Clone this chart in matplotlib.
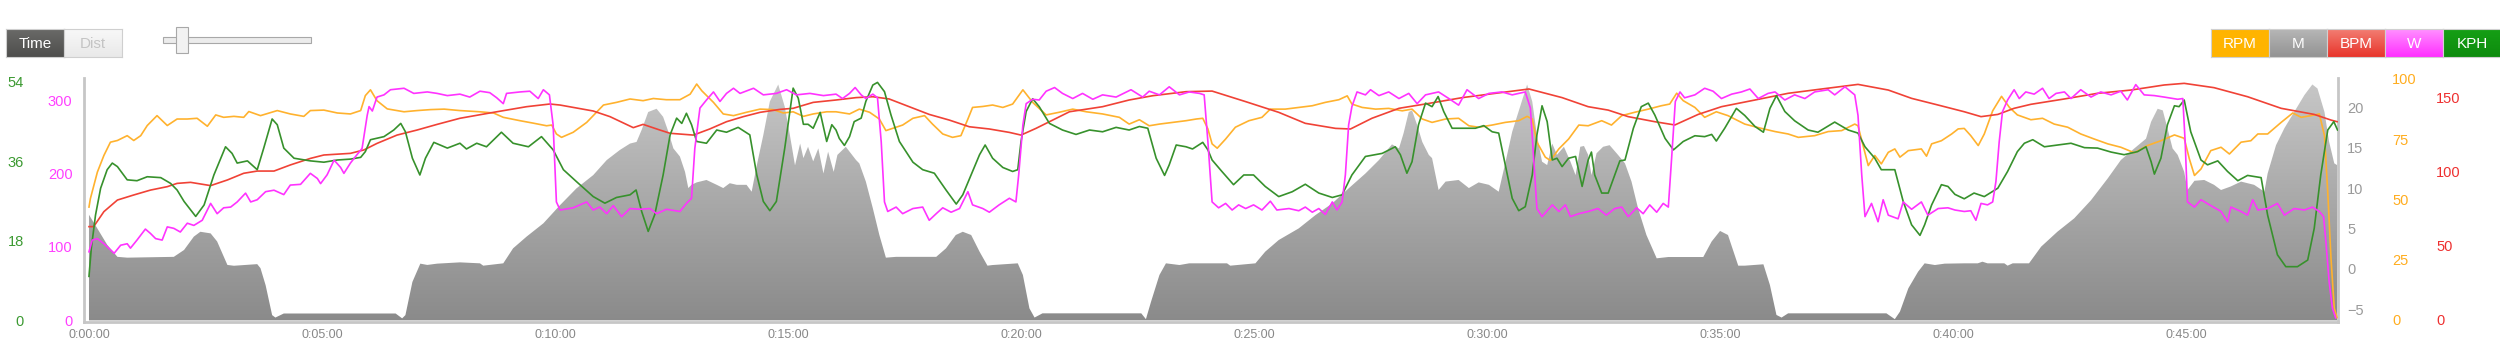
import numpy as np
import matplotlib
matplotlib.use('Agg')
import matplotlib.pyplot as plt
from matplotlib.patches import Rectangle, Polygon
from matplotlib.colors import LinearSegmentedColormap

plt.rcParams['font.family'] = ['Liberation Sans', 'DejaVu Sans']

# ---- data, time in minutes ----
elev = [(0.00, 6.7), (0.18, 5.0), (0.39, 3.0), (0.61, 1.5), (0.82, 1.4), (1.82, 1.5), (2.04, 2.35), (2.25, 4.0),
        (2.39, 4.6), (2.61, 4.4), (2.75, 3.4), (2.97, 0.5), (3.11, 0.4), (3.61, 0.6), (3.68, 0.1), (3.79, -2.0),
        (3.93, -5.7), (4.00, -6.0), (4.18, -5.5), (6.58, -5.5), (6.72, -6.1), (6.79, -5.7), (6.94, -1.6), (7.11, 0.66),
        (7.26, 0.5), (7.47, 0.66), (7.96, 0.82), (8.39, 0.7), (8.46, 0.41), (8.89, 0.7), (9.10, 2.55), (9.39, 4.0),
        (9.75, 5.64), (10.11, 7.9), (10.46, 9.96), (10.82, 11.6), (11.11, 13.46), (11.39, 14.7), (11.61, 15.5),
        (11.75, 15.7), (11.86, 17.2), (12.00, 19.4), (12.18, 19.8), (12.32, 18.8), (12.43, 17.0), (12.54, 14.9),
        (12.68, 13.9), (12.79, 12.0), (12.86, 10.0), (12.93, 10.4), (13.04, 10.7), (13.25, 11.0), (13.47, 10.4),
        (13.61, 10.0), (13.75, 10.6), (13.90, 10.4), (14.11, 10.4), (14.22, 9.55), (14.33, 12.8), (14.47, 16.55),
        (14.61, 20.7), (14.79, 22.8), (14.93, 20.05), (15.04, 16.55), (15.15, 12.8), (15.26, 15.5), (15.33, 13.7),
        (15.43, 15.1), (15.54, 13.3), (15.65, 14.9), (15.76, 11.8), (15.86, 14.5), (15.98, 12.0), (16.06, 14.1),
        (16.24, 15.1), (16.46, 13.46), (16.53, 13.05), (16.67, 10.8), (16.82, 7.5), (16.96, 4.2), (17.10, 1.4),
        (17.32, 1.5), (18.18, 1.5), (18.39, 2.55), (18.60, 4.2), (18.75, 4.6), (18.93, 4.2), (19.11, 2.14),
        (19.28, 0.41), (19.39, 0.49), (19.93, 0.7), (20.04, -0.74), (20.18, -4.86), (20.29, -6.0), (20.46, -5.48),
        (22.58, -5.48), (22.68, -6.2), (22.79, -4.04), (22.97, -0.74), (23.11, 0.7), (23.40, 0.49), (23.61, 0.7),
        (24.10, 0.7), (24.42, 0.7), (24.49, 0.41), (25.03, 0.7), (25.24, 2.14), (25.53, 3.58), (25.96, 5.02),
        (26.32, 6.67), (26.68, 8.11), (27.03, 9.96), (27.39, 11.8), (27.68, 13.46), (27.96, 15.4), (28.11, 14.9),
        (28.21, 16.8), (28.32, 19.4), (28.39, 19.6), (28.50, 17.8), (28.61, 15.7), (28.75, 14.1), (28.82, 13.7),
        (28.96, 9.76), (29.11, 10.8), (29.39, 11.0), (29.61, 10.0), (29.82, 10.7), (30.04, 10.4), (30.25, 9.55),
        (30.39, 13.05), (30.54, 16.96), (30.72, 20.25), (30.86, 22.8), (30.97, 20.7), (31.07, 16.55), (31.18, 13.26),
        (31.29, 12.84), (31.40, 15.5), (31.50, 14.1), (31.65, 15.1), (31.79, 13.26), (31.90, 11.6), (32.00, 15.1),
        (32.08, 15.2), (32.17, 14.1), (32.24, 11.6), (32.35, 14.3), (32.49, 15.1), (32.63, 15.3), (32.81, 14.1),
        (32.96, 13.05), (33.10, 10.8), (33.24, 7.5), (33.42, 4.2), (33.64, 1.32), (33.89, 1.48), (34.64, 1.48),
        (34.82, 3.4), (35.00, 4.7), (35.17, 4.2), (35.39, 0.41), (35.53, 0.41), (35.93, 0.58), (36.07, -1.98),
        (36.21, -5.68), (36.32, -6.0), (36.46, -5.48), (38.57, -5.48), (38.75, -6.2), (38.86, -5.27), (39.04, -2.39),
        (39.25, -0.33), (39.39, 0.7), (39.61, 0.49), (39.82, 0.66), (40.24, 0.7), (40.53, 0.7), (40.63, 0.9),
        (40.74, 0.7), (41.10, 0.7), (41.17, 0.41), (41.28, 0.7), (41.63, 0.7), (41.89, 2.76), (42.24, 4.61),
        (42.60, 6.26), (42.96, 8.5), (43.32, 11.2), (43.60, 13.46), (43.89, 14.9), (44.14, 16.1), (44.25, 18.2),
        (44.39, 19.8), (44.50, 19.6), (44.60, 17.4), (44.71, 14.9), (44.82, 14.1), (44.96, 12.0), (45.03, 9.76),
        (45.18, 10.9), (45.39, 11.0), (45.60, 10.4), (45.75, 9.76), (45.96, 10.2), (46.18, 10.8), (46.46, 10.4),
        (46.68, 9.55), (46.75, 11.8), (46.93, 15.3), (47.11, 17.4), (47.32, 19.4), (47.54, 21.5), (47.71, 22.8),
        (47.82, 22.3), (47.97, 19.4), (48.07, 15.7), (48.18, 13.05), (48.24, 12.84)]

rpm = [(0.0, 46.8), (0.03, 50.3), (0.18, 61.3), (0.32, 68.2), (0.46, 73.7), (0.61, 74.4), (0.75, 75.7), (0.82, 76.4),
       (0.96, 74.4), (1.11, 76.4), (1.25, 80.6), (1.46, 84.7), (1.68, 80.6), (1.89, 83.3), (2.11, 83.3), (2.32, 83.6),
       (2.54, 80.3), (2.72, 85.0), (2.89, 84.0), (3.11, 84.4), (3.32, 84.0), (3.43, 86.4), (3.68, 84.7), (4.04, 86.8),
       (4.32, 85.4), (4.61, 84.4), (4.75, 86.8), (5.04, 87.0), (5.33, 85.8), (5.61, 85.4), (5.83, 86.8), (5.93, 93.0),
       (6.04, 95.4), (6.18, 90.9), (6.40, 87.5), (6.76, 86.3), (7.04, 86.8), (7.33, 87.2), (7.62, 87.4), (7.96, 86.8),
       (8.39, 86.3), (8.68, 85.8), (8.89, 84.0), (9.25, 82.6), (9.53, 81.6), (9.82, 80.5), (9.93, 80.8), (10.03, 77.1),
       (10.14, 75.7), (10.39, 77.8), (10.68, 81.9), (10.89, 86.1), (11.04, 89.1), (11.32, 90.2), (11.61, 91.6),
       (11.89, 90.9), (12.11, 91.8), (12.39, 91.3), (12.68, 91.3), (12.90, 93.6), (13.04, 97.8), (13.15, 95.0),
       (13.40, 90.2), (13.61, 85.4), (13.83, 84.7), (14.11, 86.1), (14.40, 87.4), (14.68, 87.2), (14.90, 85.8),
       (15.11, 86.3), (15.33, 84.4), (15.54, 85.4), (15.83, 86.3), (16.03, 86.3), (16.32, 85.4), (16.53, 87.4),
       (16.75, 86.1), (16.96, 83.3), (17.10, 78.5), (17.32, 79.9), (17.46, 80.8), (17.68, 83.6), (17.93, 84.7),
       (18.10, 81.2), (18.32, 77.1), (18.53, 75.7), (18.71, 76.4), (18.86, 83.3), (18.96, 88.1), (19.18, 88.5),
       (19.39, 89.1), (19.61, 88.1), (19.82, 89.5), (20.04, 95.4), (20.25, 90.2), (20.54, 85.0), (20.82, 86.1),
       (21.11, 87.4), (21.40, 86.3), (21.75, 85.4), (22.11, 84.0), (22.32, 81.2), (22.54, 83.0), (22.75, 80.5),
       (22.97, 81.2), (23.25, 81.9), (23.54, 82.6), (23.76, 83.3), (23.90, 83.6), (24.01, 79.2), (24.10, 73.0),
       (24.21, 71.2), (24.39, 75.0), (24.60, 79.9), (24.89, 82.6), (25.17, 84.0), (25.35, 87.4), (25.67, 87.4),
       (25.96, 88.1), (26.25, 88.8), (26.53, 90.2), (26.82, 91.3), (27.00, 92.9), (27.10, 89.5), (27.32, 88.1),
       (27.61, 87.4), (27.89, 87.7), (28.18, 86.7), (28.39, 87.4), (28.61, 83.3), (28.82, 81.9), (29.11, 83.3),
       (29.39, 83.6), (29.61, 80.5), (29.82, 79.9), (30.11, 80.8), (30.39, 81.9), (30.68, 82.6), (30.86, 84.4),
       (30.97, 83.3), (31.07, 73.7), (31.25, 67.5), (31.36, 66.1), (31.54, 70.9), (31.75, 75.0), (31.97, 80.8),
       (32.17, 80.5), (32.46, 82.6), (32.67, 80.8), (32.89, 84.7), (33.17, 86.1), (33.46, 87.4), (33.74, 88.8),
       (33.92, 89.5), (34.07, 94.0), (34.21, 90.9), (34.46, 88.1), (34.67, 84.0), (34.92, 86.3), (35.17, 84.7),
       (35.53, 81.2), (35.89, 79.4), (36.18, 78.1), (36.46, 77.1), (36.68, 75.7), (37.03, 76.4), (37.32, 78.1),
       (37.61, 78.5), (37.89, 81.2), (37.96, 80.5), (38.07, 72.3), (38.18, 64.0), (38.32, 68.2), (38.46, 64.7),
       (38.61, 69.5), (38.75, 70.9), (38.86, 67.5), (39.04, 70.2), (39.32, 70.9), (39.43, 67.9), (39.54, 73.0),
       (39.75, 74.3), (39.97, 77.1), (40.11, 79.2), (40.24, 79.4), (40.38, 76.4), (40.54, 72.3), (40.67, 77.1),
       (40.85, 86.7), (41.04, 92.7), (41.21, 88.1), (41.38, 85.0), (41.67, 83.0), (41.92, 83.6), (42.17, 81.2),
       (42.46, 79.9), (42.74, 77.1), (43.03, 75.0), (43.32, 73.0), (43.60, 71.6), (43.89, 69.3), (44.17, 72.3),
       (44.46, 74.3), (44.75, 76.7), (44.96, 75.3), (45.07, 66.8), (45.18, 59.9), (45.32, 62.6), (45.53, 70.2),
       (45.75, 71.6), (45.93, 68.8), (46.18, 73.7), (46.39, 74.3), (46.54, 77.1), (46.75, 77.1), (47.04, 81.9),
       (47.29, 85.8), (47.47, 84.0), (47.68, 84.7), (47.86, 85.4), (47.97, 76.4), (48.04, 53.0), (48.11, 25.5),
       (48.18, 4.8), (48.24, 1.0)]

bpm = [(0.0, 62.8), (0.10, 62.8), (0.32, 72.9), (0.61, 80.7), (0.96, 84.1), (1.32, 87.4), (1.68, 89.7), (1.89, 91.9),
       (2.18, 92.6), (2.61, 90.4), (2.97, 94.2), (3.32, 98.7), (3.61, 100.2), (3.97, 100.2), (4.32, 104.3),
       (4.75, 108.7), (5.04, 111.0), (5.61, 112.1), (5.90, 114.4), (6.18, 118.8), (6.61, 124.4), (7.04, 127.8),
       (7.47, 131.6), (7.96, 135.7), (8.68, 139.7), (9.39, 143.5), (9.89, 145.3), (10.11, 144.6), (10.82, 140.6),
       (11.18, 136.8), (11.68, 129.4), (11.89, 131.6), (12.25, 127.8), (12.47, 125.6), (12.97, 124.4),
       (13.32, 128.5), (13.68, 133.4), (14.04, 136.8), (14.40, 139.7), (14.83, 141.7), (15.11, 142.4),
       (15.54, 146.4), (16.03, 148.0), (16.46, 149.6), (16.82, 150.2), (17.17, 148.7), (17.60, 143.5),
       (18.03, 138.3), (18.46, 134.5), (18.89, 130.0), (19.32, 128.5), (19.75, 126.2), (20.00, 124.4),
       (20.32, 128.9), (20.68, 134.5), (21.04, 140.1), (21.75, 143.5), (22.32, 148.0), (22.83, 150.9),
       (23.54, 153.6), (24.10, 154.0), (24.82, 146.9), (25.53, 139.7), (26.10, 132.3), (26.75, 128.9),
       (27.07, 128.5), (27.53, 135.7), (28.11, 142.4), (28.75, 145.7), (29.47, 149.6), (30.18, 152.5),
       (30.90, 155.4), (31.61, 149.6), (32.17, 143.5), (32.60, 141.2), (33.03, 136.8), (33.60, 133.4),
       (34.03, 131.2), (34.53, 138.3), (35.03, 143.5), (35.75, 148.0), (36.46, 152.5), (37.18, 155.4),
       (37.96, 158.5), (38.61, 154.7), (39.11, 149.1), (39.68, 144.6), (40.24, 140.1), (40.60, 136.8),
       (40.96, 138.3), (41.31, 142.4), (41.67, 145.1), (42.39, 148.7), (43.10, 152.5), (43.82, 154.7),
       (44.53, 158.1), (44.96, 159.2), (45.60, 156.3), (46.32, 150.2), (47.04, 142.4), (47.75, 138.3),
       (48.11, 134.5), (48.24, 133.4)]

kph = [(0.0, 9.9), (0.05, 16.3), (0.14, 23.8), (0.25, 29.9), (0.39, 34.1), (0.50, 35.6), (0.61, 34.8), (0.82, 31.8),
       (1.03, 31.6), (1.25, 32.5), (1.54, 32.3), (1.75, 31.0), (1.89, 29.5), (2.04, 26.9), (2.29, 23.5), (2.47, 26.1),
       (2.68, 32.9), (2.93, 39.3), (3.07, 37.8), (3.18, 35.6), (3.40, 36.1), (3.61, 34.1), (3.75, 39.0), (3.93, 45.6),
       (4.04, 44.3), (4.18, 39.0), (4.40, 36.7), (4.75, 36.1), (5.04, 35.8), (5.33, 36.3), (5.61, 36.5), (5.83, 36.9),
       (5.93, 38.2), (6.04, 40.9), (6.33, 41.6), (6.54, 43.1), (6.69, 44.6), (6.79, 42.7), (6.94, 36.7), (7.10, 32.9),
       (7.22, 36.7), (7.40, 40.3), (7.69, 39.0), (7.96, 40.1), (8.10, 38.8), (8.32, 40.1), (8.53, 39.3), (8.85, 42.6),
       (9.10, 40.1), (9.43, 39.3), (9.71, 41.6), (9.96, 38.6), (10.18, 34.1), (10.46, 31.4), (10.82, 28.0),
       (11.07, 26.5), (11.32, 27.8), (11.61, 28.4), (11.74, 29.5), (11.86, 24.6), (12.00, 20.1), (12.14, 23.9),
       (12.32, 32.9), (12.47, 42.0), (12.61, 45.8), (12.72, 44.6), (12.82, 46.9), (12.93, 44.3), (13.04, 40.5),
       (13.25, 40.1), (13.47, 43.1), (13.68, 42.6), (13.93, 43.7), (14.18, 42.0), (14.33, 32.9), (14.47, 26.9),
       (14.61, 24.8), (14.75, 26.9), (14.93, 39.0), (15.11, 52.6), (15.22, 50.3), (15.33, 44.4), (15.43, 44.4),
       (15.54, 43.5), (15.69, 47.1), (15.83, 40.5), (15.94, 44.3), (16.03, 43.1), (16.10, 41.2), (16.21, 39.6),
       (16.32, 41.6), (16.42, 45.0), (16.57, 45.8), (16.67, 49.6), (16.82, 53.3), (16.92, 53.9), (17.07, 51.8),
       (17.21, 46.5), (17.39, 40.5), (17.68, 35.8), (17.89, 34.1), (18.14, 33.3), (18.39, 29.5), (18.61, 26.3),
       (18.75, 28.4), (18.96, 33.7), (19.11, 37.5), (19.23, 39.7), (19.39, 36.7), (19.61, 34.6), (19.82, 33.7),
       (19.93, 34.1), (20.00, 40.5), (20.11, 47.3), (20.25, 50.2), (20.39, 48.4), (20.61, 44.6), (20.89, 43.1),
       (21.18, 42.1), (21.47, 43.1), (21.75, 42.7), (22.04, 43.7), (22.32, 43.1), (22.54, 43.9), (22.72, 43.5),
       (22.90, 36.7), (23.08, 32.8), (23.18, 35.2), (23.33, 39.7), (23.54, 39.3), (23.68, 38.8), (23.90, 40.3),
       (24.01, 38.6), (24.10, 36.3), (24.31, 33.7), (24.56, 30.7), (24.78, 32.9), (24.99, 32.9), (25.24, 30.3),
       (25.53, 28.0), (25.82, 29.1), (26.10, 30.8), (26.39, 28.8), (26.68, 27.8), (26.89, 28.4), (27.10, 32.9),
       (27.39, 37.1), (27.75, 37.8), (28.03, 39.3), (28.14, 37.5), (28.28, 33.3), (28.39, 35.9), (28.53, 44.3),
       (28.68, 49.2), (28.82, 48.4), (28.95, 50.7), (29.07, 47.3), (29.25, 43.5), (29.54, 43.5), (29.75, 43.5),
       (29.93, 44.1), (30.11, 42.7), (30.25, 42.4), (30.39, 35.2), (30.54, 27.6), (30.68, 24.8), (30.82, 25.7),
       (30.97, 32.9), (31.07, 42.0), (31.18, 48.6), (31.29, 45.0), (31.40, 36.3), (31.50, 36.7), (31.61, 34.8),
       (31.75, 36.7), (31.90, 37.1), (32.04, 30.3), (32.17, 36.3), (32.24, 38.1), (32.31, 32.9), (32.46, 28.8),
       (32.60, 28.8), (32.74, 32.9), (32.85, 36.1), (32.96, 36.3), (33.14, 43.5), (33.31, 48.4), (33.46, 49.2),
       (33.60, 46.5), (33.82, 41.2), (34.00, 38.6), (34.21, 40.5), (34.46, 41.8), (34.67, 41.6), (34.82, 42.1),
       (34.92, 40.6), (35.10, 43.5), (35.35, 48.0), (35.53, 46.4), (35.75, 43.9), (35.93, 42.6), (36.07, 48.0),
       (36.21, 50.9), (36.39, 47.3), (36.60, 45.2), (36.89, 43.1), (37.10, 42.6), (37.46, 44.9), (37.75, 43.1),
       (37.96, 42.4), (38.11, 39.3), (38.32, 36.7), (38.46, 34.1), (38.75, 34.1), (38.93, 26.9), (39.11, 21.6),
       (39.29, 19.2), (39.39, 21.6), (39.54, 26.1), (39.75, 30.7), (39.89, 30.3), (40.04, 28.5), (40.24, 27.5),
       (40.45, 28.8), (40.67, 28.0), (40.96, 29.9), (41.17, 33.7), (41.38, 38.2), (41.53, 40.1), (41.71, 40.9),
       (41.96, 39.3), (42.24, 39.7), (42.53, 40.1), (42.82, 39.1), (43.10, 39.0), (43.39, 38.1), (43.67, 37.5),
       (43.96, 38.2), (44.14, 39.3), (44.25, 35.9), (44.32, 33.1), (44.46, 36.7), (44.60, 44.3), (44.75, 48.6),
       (44.85, 48.4), (44.96, 49.9), (45.10, 42.7), (45.32, 36.3), (45.46, 35.2), (45.68, 36.1), (45.89, 33.7),
       (46.11, 31.6), (46.32, 32.8), (46.61, 32.3), (46.75, 23.8), (46.96, 14.8), (47.14, 12.1), (47.39, 12.1),
       (47.61, 13.6), (47.75, 20.8), (47.89, 32.9), (48.04, 43.1), (48.17, 45.0), (48.25, 43.1)]

watts = [(0.0, 93), (0.07, 109), (0.18, 111), (0.32, 104), (0.54, 91), (0.68, 102), (0.82, 104), (0.89, 98),
         (1.03, 109), (1.21, 124), (1.32, 118), (1.43, 111), (1.57, 109), (1.68, 127), (1.82, 125), (1.96, 120),
         (2.11, 132), (2.25, 129), (2.43, 136), (2.61, 159), (2.75, 145), (2.89, 153), (3.04, 154), (3.18, 161),
         (3.36, 173), (3.47, 161), (3.61, 164), (3.79, 175), (3.97, 177), (4.18, 171), (4.32, 184), (4.54, 185),
         (4.75, 200), (4.90, 193), (4.97, 186), (5.11, 198), (5.26, 218), (5.40, 208), (5.47, 200), (5.61, 214),
         (5.72, 223), (5.86, 234), (5.97, 279), (6.01, 291), (6.08, 285), (6.18, 304), (6.33, 307), (6.47, 314),
         (6.76, 316), (6.97, 309), (7.26, 311), (7.47, 309), (7.69, 306), (7.96, 308), (8.17, 304), (8.39, 312),
         (8.60, 310), (8.75, 303), (8.89, 295), (8.96, 309), (9.25, 311), (9.46, 312), (9.64, 302), (9.75, 314),
         (9.88, 307), (9.96, 266), (10.03, 161), (10.11, 150), (10.39, 153), (10.68, 161), (10.82, 150),
         (10.96, 154), (11.11, 145), (11.25, 156), (11.43, 141), (11.61, 152), (11.82, 151), (12.04, 152),
         (12.18, 145), (12.39, 151), (12.68, 148), (12.82, 159), (12.93, 166), (13.00, 234), (13.11, 289),
         (13.25, 300), (13.40, 311), (13.54, 298), (13.68, 309), (13.83, 316), (13.97, 309), (14.26, 316),
         (14.47, 307), (14.75, 309), (14.97, 314), (15.18, 307), (15.47, 309), (15.76, 306), (16.03, 308),
         (16.17, 302), (16.32, 309), (16.44, 317), (16.57, 307), (16.67, 302), (16.82, 308), (16.92, 303),
         (17.00, 243), (17.07, 161), (17.14, 148), (17.32, 154), (17.46, 145), (17.68, 152), (17.89, 154),
         (18.03, 136), (18.18, 145), (18.32, 153), (18.50, 147), (18.68, 152), (18.86, 175), (18.96, 157),
         (19.18, 152), (19.32, 147), (19.53, 157), (19.75, 166), (19.89, 161), (19.95, 198), (20.04, 266),
         (20.11, 295), (20.25, 301), (20.39, 300), (20.54, 312), (20.72, 317), (20.89, 309), (21.11, 302),
         (21.32, 309), (21.54, 301), (21.75, 307), (22.04, 304), (22.36, 314), (22.61, 304), (22.75, 312),
         (22.97, 307), (23.18, 318), (23.40, 307), (23.61, 311), (23.83, 309), (23.93, 307), (24.01, 243),
         (24.10, 161), (24.24, 153), (24.39, 159), (24.53, 150), (24.67, 157), (24.82, 152), (24.99, 157),
         (25.17, 150), (25.35, 162), (25.49, 150), (25.75, 152), (25.96, 149), (26.10, 154), (26.25, 147),
         (26.39, 152), (26.53, 144), (26.68, 161), (26.78, 150), (26.89, 161), (26.96, 198), (27.03, 266),
         (27.10, 291), (27.21, 311), (27.39, 307), (27.50, 314), (27.68, 306), (27.89, 311), (28.11, 302),
         (28.32, 309), (28.50, 295), (28.68, 307), (28.96, 311), (29.18, 302), (29.39, 293), (29.57, 314),
         (29.82, 302), (30.04, 309), (30.32, 311), (30.54, 307), (30.82, 311), (30.93, 289), (31.00, 220),
         (31.07, 152), (31.18, 141), (31.40, 157), (31.54, 148), (31.68, 157), (31.79, 141), (31.97, 145),
         (32.17, 148), (32.38, 152), (32.56, 143), (32.74, 152), (32.89, 154), (33.03, 141), (33.21, 153),
         (33.35, 145), (33.49, 157), (33.64, 147), (33.78, 159), (33.89, 154), (33.96, 220), (34.04, 298),
         (34.14, 311), (34.24, 303), (34.46, 307), (34.67, 316), (34.85, 312), (35.03, 302), (35.25, 308),
         (35.46, 311), (35.64, 315), (35.82, 302), (36.03, 309), (36.18, 311), (36.39, 300), (36.60, 307),
         (36.82, 302), (37.03, 311), (37.32, 314), (37.46, 307), (37.68, 318), (37.89, 307), (37.96, 279),
         (38.04, 198), (38.11, 141), (38.25, 159), (38.39, 134), (38.50, 164), (38.61, 143), (38.82, 138),
         (38.93, 161), (39.11, 151), (39.32, 161), (39.46, 143), (39.68, 152), (39.89, 153), (40.04, 150),
         (40.24, 148), (40.38, 149), (40.49, 136), (40.60, 159), (40.74, 157), (40.85, 161), (40.92, 189),
         (40.99, 243), (41.06, 284), (41.17, 300), (41.31, 314), (41.42, 302), (41.56, 311), (41.74, 308),
         (41.92, 316), (42.06, 302), (42.21, 309), (42.39, 311), (42.53, 302), (42.74, 314), (42.96, 304),
         (43.17, 311), (43.39, 307), (43.60, 312), (43.74, 300), (43.92, 321), (44.10, 307), (44.32, 306),
         (44.53, 304), (44.82, 301), (44.93, 302), (44.98, 243), (45.03, 161), (45.18, 154), (45.32, 164),
         (45.53, 156), (45.75, 148), (45.89, 134), (45.96, 154), (46.18, 148), (46.32, 143), (46.43, 164),
         (46.54, 150), (46.75, 152), (46.96, 159), (47.11, 143), (47.32, 152), (47.54, 150), (47.71, 154),
         (47.86, 148), (47.95, 141), (48.00, 107), (48.07, 52), (48.14, 16), (48.21, 3)]

m_ticks = [-5, 0, 5, 10, 15, 20]
rpm_ticks = [0, 25, 50, 75, 100]
bpm_ticks = [0, 50, 100, 150]
kph_ticks = [0, 18, 36, 54]
w_ticks = [0, 100, 200, 300]
time_ticks = [0, 5, 10, 15, 20, 25, 30, 35, 40, 45]
legend_names = ['RPM', 'M', 'BPM', 'W', 'KPH']

# ---- figure ----
W, H = 2500, 357
fig = plt.figure(figsize=(W / 100, H / 100), dpi=100)


def frect(x, y, w, h):
    # pixel box (top-left origin) -> figure fraction
    return [x / W, 1 - (y + h) / H, w / W, h / H]


ax = fig.add_axes(frect(84, 78, 2254, 244))
ax_rpm = ax.twinx()
ax_bpm = ax.twinx()
ax_kph = ax.twinx()
ax_w = ax.twinx()

xlim = (-0.107, 48.26)
m_lim = (-6.55, 23.6)

# elevation: gradient fill clipped to the profile
et, ev = np.array(elev).T
base = -6.35
poly = Polygon(np.column_stack([np.r_[et[0], et, et[-1]], np.r_[base, ev, base]]),
               closed=True, fc='none', ec='none')
ax.add_patch(poly)
gray_cmap = LinearSegmentedColormap.from_list('elev', ['#8a8a8a', '#c8c8c8'])
img = ax.imshow(np.linspace(1, 0, 256).reshape(-1, 1), cmap=gray_cmap, aspect='auto',
                extent=[xlim[0], xlim[1], m_lim[0], m_lim[1]], zorder=1)
img.set_clip_path(poly)

series = [(ax_rpm, rpm, '#ffb22e'), (ax_bpm, bpm, '#f04236'),
          (ax_kph, kph, '#37912c'), (ax_w, watts, '#ff33ff')]
for a, data, col in series:
    t, v = np.array(data).T
    a.plot(t, v, color=col, lw=1.2)

ax.set_xlim(*xlim)
ax.set_ylim(*m_lim)
ax_rpm.set_ylim(-0.83, 100.3)
ax_bpm.set_ylim(-1.35, 162.8)
ax_kph.set_ylim(-0.45, 54.9)
ax_w.set_ylim(-2.7, 330)

for a in (ax, ax_rpm, ax_bpm, ax_kph, ax_w):
    for s in a.spines.values():
        s.set_visible(False)
for side in ('left', 'right', 'bottom'):
    ax.spines[side].set_visible(True)
    ax.spines[side].set_color('#c6c6c6')
    ax.spines[side].set_linewidth(2)

ax.set_xticks(time_ticks, labels=[f'0:{m:02d}:00' for m in time_ticks])
ax.tick_params(axis='x', length=0, pad=5, labelsize=9, labelcolor='#888888')

axis_cfg = [(ax, m_ticks, 'right', 6.5, '#9a9a9a'),
            (ax_rpm, rpm_ticks, 'right', 38.9, '#ffad1f'),
            (ax_bpm, bpm_ticks, 'right', 70.6, '#ee3030'),
            (ax_kph, kph_ticks, 'left', 43.2, '#3c9a32'),
            (ax_w, w_ticks, 'left', 8.3, '#ff40ff')]
for a, ticks, side, pad, col in axis_cfg:
    if side == 'right':
        a.yaxis.tick_right()
    else:
        a.yaxis.tick_left()
    a.set_yticks(ticks)
    a.tick_params(axis='y', length=0, pad=pad, labelsize=10.5, labelcolor=col)

# ---- legend buttons (top right) ----
btn_cols = [('#ffb400', '#ffb400'), ('#b6b6b6', '#939393'), ('#f27d72', '#e8352b'),
            ('#ff8fff', '#ff30ff'), ('#159f15', '#0e8c0e')]
bx = 2211
for name, (c_top, c_bot) in zip(legend_names, btn_cols):
    bax = fig.add_axes(frect(bx, 29, 58, 28))
    bax.imshow(np.linspace(1, 0, 32).reshape(-1, 1), aspect='auto',
               cmap=LinearSegmentedColormap.from_list(name, [c_bot, c_top]))
    bax.text(0.5, 0.48, name, transform=bax.transAxes, ha='center', va='center',
             color='white', fontsize=11)
    bax.set_xticks([])
    bax.set_yticks([])
    for s in bax.spines.values():
        s.set_color('#d0d0d0')
        s.set_linewidth(0.8)
    bx += 58

# ---- Time / Dist toggle ----
for x0, label, (c_top, c_bot), tcol in [(6, 'Time', ('#6a6a68', '#4e4e4c'), 'white'),
                                        (64, 'Dist', ('#f8f8f8', '#e9e9e9'), '#c4c4c4')]:
    tax = fig.add_axes(frect(x0, 29, 58, 28))
    tax.imshow(np.linspace(1, 0, 32).reshape(-1, 1), aspect='auto',
               cmap=LinearSegmentedColormap.from_list(label, [c_bot, c_top]))
    tax.text(0.5, 0.48, label, transform=tax.transAxes, ha='center', va='center',
             color=tcol, fontsize=11)
    tax.set_xticks([])
    tax.set_yticks([])
    for s in tax.spines.values():
        s.set_color('#cfcfcf')
        s.set_linewidth(0.8)

# ---- slider ----
fig.patches.append(Rectangle(frect(163, 37, 148, 6)[:2], 148 / W, 6 / H, transform=fig.transFigure,
                             fc='#ececec', ec='#a8a8a8', lw=0.8))
fig.patches.append(Rectangle(frect(176, 27, 12, 26)[:2], 12 / W, 26 / H, transform=fig.transFigure,
                             fc='#f2f2f2', ec='#a8a8a8', lw=0.8))

fig.savefig('out.png', dpi=100)
